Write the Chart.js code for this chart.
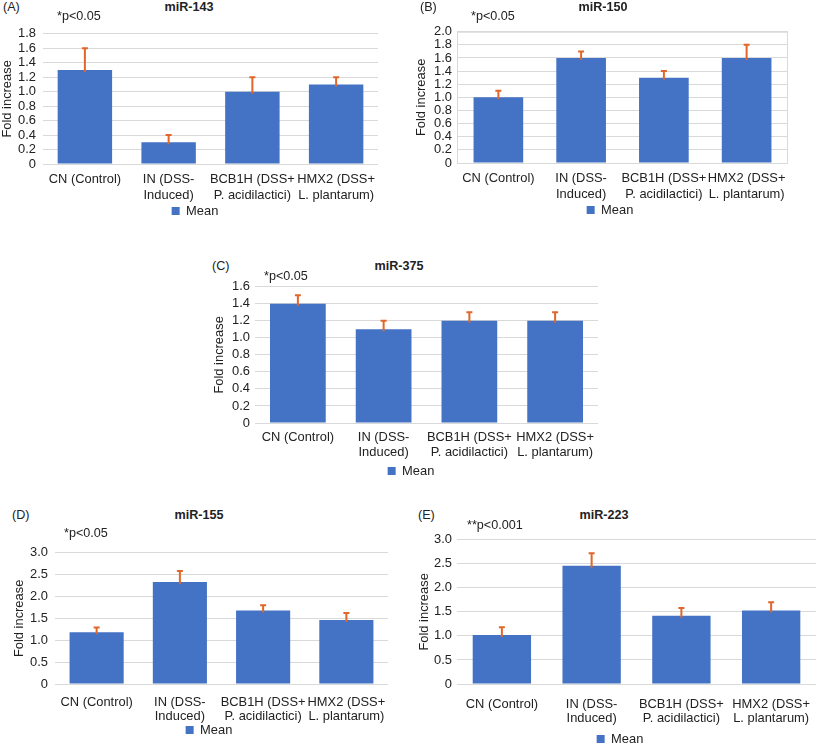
<!DOCTYPE html>
<html>
<head>
<meta charset="utf-8">
<script src="https://cdn.jsdelivr.net/npm/chart.js@4.4.1/dist/chart.umd.min.js"></script>
<style>
  body { margin: 0; background: #fff; }
  #wrap { position: relative; width: 825px; height: 746px; overflow: hidden; font-family: "Liberation Sans", Arial, sans-serif; color: #222; }
  canvas { position: absolute; }
  .txt { position: absolute; font-size: 12.6px; line-height: 14px; white-space: nowrap; transform: translateY(-50%); }
  .ttl { font-weight: bold; transform: translate(-50%, -50%); }
</style>
</head>
<body>
<div id="wrap"></div>
<script>
// categories shared by all five panels
const groups = [['CN (Control)'], ['IN (DSS-', 'Induced)'], ['BCB1H (DSS+', 'P. acidilactici)'], ['HMX2 (DSS+', 'L. plantarum)']];

// mean fold increase and upper error (SD) for each miRNA
const mean143 = [1.3, 0.3, 1.0, 1.1];
const sd143 = [0.3, 0.1, 0.2, 0.1];
const mean150 = [1.0, 1.6, 1.3, 1.6];
const sd150 = [0.1, 0.1, 0.1, 0.2];
const mean375 = [1.4, 1.1, 1.2, 1.2];
const sd375 = [0.1, 0.1, 0.1, 0.1];
const mean155 = [1.18, 2.33, 1.68, 1.46];
const sd155 = [0.11, 0.25, 0.12, 0.16];
const mean223 = [1.02, 2.46, 1.42, 1.53];
const sd223 = [0.16, 0.26, 0.16, 0.17];

// y tick labels
const ticks143 = ['0', '0.2', '0.4', '0.6', '0.8', '1.0', '1.2', '1.4', '1.6', '1.8'];
const ticks150 = ['0', '0.2', '0.4', '0.6', '0.8', '1.0', '1.2', '1.4', '1.6', '1.8', '2.0'];
const ticks375 = ['0', '0.2', '0.4', '0.6', '0.8', '1.0', '1.2', '1.4', '1.6'];
const ticks155 = ['0', '0.5', '1.0', '1.5', '2.0', '2.5', '3.0'];
const ticks223 = ['0', '0.5', '1.0', '1.5', '2.0', '2.5', '3.0'];

const BLUE = '#4472C4';
const ORANGE = '#E0662A';
const FONT = '"Liberation Sans", Arial, sans-serif';
const FS = 12.9;
const wrap = document.getElementById('wrap');

// draws the upward error bars from each bar top
const errorBars = {
    id: 'errorBars',
    afterDatasetsDraw(chart) {
        const sd = chart.options.plugins.errorBars.sd;
        const meta = chart.getDatasetMeta(0);
        const y = chart.scales.y;
        const ctx = chart.ctx;
        ctx.save();
        ctx.strokeStyle = ORANGE;
        ctx.lineWidth = 2;
        meta.data.forEach((bar, i) => {
            const v = chart.data.datasets[0].data[i];
            const top = y.getPixelForValue(v + sd[i]);
            ctx.beginPath();
            ctx.moveTo(bar.x, y.getPixelForValue(v) + 2);
            ctx.lineTo(bar.x, top);
            ctx.moveTo(bar.x - 3, top);
            ctx.lineTo(bar.x + 3, top);
            ctx.stroke();
        });
        ctx.restore();
    }
};

// light box round the plot area (panel B only)
const plotBox = {
    id: 'plotBox',
    beforeDatasetsDraw(chart) {
        if (!chart.options.plugins.plotBox.show) return;
        const a = chart.chartArea;
        chart.ctx.save();
        chart.ctx.strokeStyle = '#D9D9D9';
        chart.ctx.lineWidth = 1;
        chart.ctx.strokeRect(a.left + 0.5, a.top + 0.5, a.right - a.left - 1, a.bottom - a.top);
        chart.ctx.restore();
    }
};

function addText(txt, x, y, cls) {
    const d = document.createElement('div');
    d.className = 'txt' + (cls ? ' ' + cls : '');
    d.textContent = txt;
    d.style.left = x + 'px';
    d.style.top = y + 'px';
    wrap.appendChild(d);
}

function panel(p) {
    const padTop = 10;
    const xAxisH = p.legendY - p.plot.b - FS / 2;
    const legendH = FS + 10;
    const h = padTop + (p.plot.b - p.plot.t) + xAxisH + legendH;
    const H = Math.ceil(h);
    const cv = document.createElement('canvas');
    cv.width = p.w;
    cv.height = H;
    cv.style.left = p.x + 'px';
    cv.style.top = (p.plot.t - padTop) + 'px';
    wrap.appendChild(cv);

    new Chart(cv.getContext('2d'), {
        type: 'bar',
        data: {
            labels: groups,
            datasets: [{
                label: 'Mean',
                data: p.mean,
                backgroundColor: BLUE,
                categoryPercentage: 1,
                barPercentage: p.barPct
            }]
        },
        options: {
            responsive: false,
            animation: false,
            layout: { padding: { top: padTop, left: 0, right: 0, bottom: H - h } },
            scales: {
                x: {
                    grid: { display: false, drawTicks: false },
                    border: { display: false },
                    ticks: { color: '#222', font: { family: FONT, size: FS, lineHeight: p.lh }, padding: p.labPad, maxRotation: 0, autoSkip: false },
                    afterFit: s => { s.height = xAxisH; }
                },
                y: {
                    min: 0,
                    max: p.max,
                    grid: { color: '#D9D9D9', drawTicks: false },
                    border: { display: false },
                    ticks: {
                        stepSize: p.step,
                        autoSkip: false,
                        padding: p.tickPad,
                        color: '#222',
                        font: { family: FONT, size: FS },
                        callback: (v, i) => p.ticks[i]
                    },
                    title: { display: true, text: 'Fold increase', color: '#222', font: { family: FONT, size: FS }, padding: { top: 0, bottom: 0 } },
                    afterFit: s => { s.width = p.plot.l - p.x; }
                },
                pad: {
                    position: 'right',
                    display: true,
                    grid: { display: false },
                    border: { display: false },
                    ticks: { display: false },
                    afterFit: s => { s.width = p.x + p.w - p.plot.r; }
                }
            },
            plugins: {
                legend: {
                    position: 'bottom',
                    labels: { boxWidth: 8, boxHeight: 8, padding: 0, color: '#222', font: { family: FONT, size: FS } }
                },
                tooltip: { enabled: false },
                errorBars: { sd: p.sd },
                plotBox: { show: !!p.box }
            }
        },
        plugins: [errorBars, plotBox]
    });

    addText(p.letter, p.letterX, p.headY);
    addText(p.title, p.titleX, p.headY, 'ttl');
    addText(p.sig, p.sigX, p.sigY);
}

panel({ letter: '(A)', title: 'miR-143', sig: '*p<0.05', mean: mean143, sd: sd143, ticks: ticks143, max: 1.8, step: 0.2,
    x: 0, w: 390, plot: { l: 43, t: 29, r: 378, b: 164 }, legendY: 211, labPad: 7, lh: 1.25, tickPad: 7, barPct: 0.65,
    letterX: 3, headY: 7, titleX: 189, sigX: 57, sigY: 16 });
panel({ letter: '(B)', title: 'miR-150', sig: '*p<0.05', mean: mean150, sd: sd150, ticks: ticks150, max: 2.0, step: 0.2,
    x: 414, w: 392, plot: { l: 457, t: 29, r: 788, b: 163 }, legendY: 210, labPad: 8, lh: 1.2, tickPad: 5, barPct: 0.6, box: true,
    letterX: 420, headY: 7, titleX: 603, sigX: 471, sigY: 16 });
panel({ letter: '(C)', title: 'miR-375', sig: '*p<0.05', mean: mean375, sd: sd375, ticks: ticks375, max: 1.6, step: 0.2,
    x: 212, w: 398, plot: { l: 255, t: 284, r: 598, b: 423 }, legendY: 471, labPad: 7, lh: 1.17, tickPad: 5, barPct: 0.65,
    letterX: 212, headY: 266, titleX: 399, sigX: 264, sigY: 276 });
panel({ letter: '(D)', title: 'miR-155', sig: '*p<0.05', mean: mean155, sd: sd155, ticks: ticks155, max: 3.0, step: 0.5,
    x: 12, w: 394, plot: { l: 55, t: 548, r: 388, b: 684 }, legendY: 730, labPad: 12, lh: 1.05, tickPad: 7, barPct: 0.65,
    letterX: 12, headY: 515, titleX: 199, sigX: 64, sigY: 533 });
panel({ letter: '(E)', title: 'miR-223', sig: '**p<0.001', mean: mean223, sd: sd223, ticks: ticks223, max: 3.0, step: 0.5,
    x: 417, w: 406, plot: { l: 457, t: 537, r: 823, b: 684 }, legendY: 739, labPad: 13, lh: 1.1, tickPad: 5, barPct: 0.65,
    letterX: 418, headY: 515, titleX: 604, sigX: 467, sigY: 525 });
</script>
</body>
</html>
